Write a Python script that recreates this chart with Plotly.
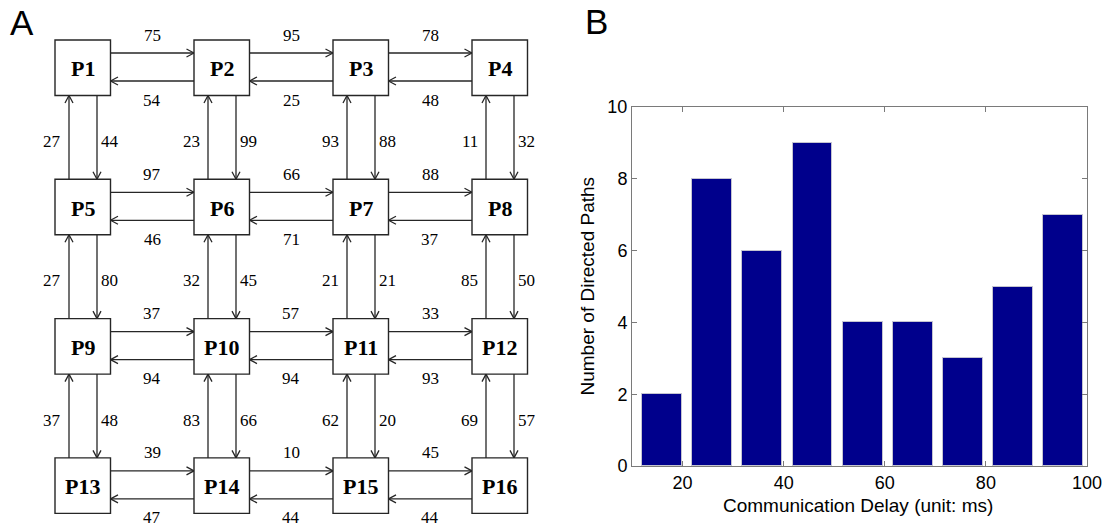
import plotly.graph_objects as go

# ---------------- Panel A data ----------------
node_names = [["P1", "P2", "P3", "P4"],
              ["P5", "P6", "P7", "P8"],
              ["P9", "P10", "P11", "P12"],
              ["P13", "P14", "P15", "P16"]]
# delay of Pk -> right neighbour (upper arrow), per row
right_delays = [[75, 95, 78], [97, 66, 88], [37, 57, 33], [39, 10, 45]]
# delay of right neighbour -> Pk (lower arrow), per row
left_delays = [[54, 25, 48], [46, 71, 37], [94, 94, 93], [47, 44, 44]]
# delay from node below -> node above (left arrow), per row gap, per column
up_delays = [[27, 23, 93, 11], [27, 32, 21, 85], [37, 83, 62, 69]]
# delay from node above -> node below (right arrow)
down_delays = [[44, 99, 88, 32], [80, 45, 21, 50], [48, 66, 20, 57]]

# ---------------- Panel B data ----------------
delay_bins = [16.0, 25.9, 35.8, 45.7, 55.6, 65.5, 75.4, 85.3, 95.2]
path_counts = [2, 8, 6, 9, 4, 4, 3, 5, 7]
x_ticks = [20, 40, 60, 80, 100]
y_ticks = [0, 2, 4, 6, 8, 10]

W, H = 1110, 528

# layout of the diagram (pixel space)
X0, Y0 = 55, 40
SX, SY = 139, 139.3
BOX = 55.5
HEAD_L, HEAD_W = 7.5, 4.0
LINE_C = "#262626"

lx, ly = [], []


def arrow(x1, y1, x2, y2):
    lx.extend([x1, x2, None])
    ly.extend([y1, y2, None])
    dx, dy = x2 - x1, y2 - y1
    n = (dx * dx + dy * dy) ** 0.5
    ux, uy = dx / n, dy / n
    px, py = -uy, ux
    bx, by = x2 - HEAD_L * ux, y2 - HEAD_L * uy
    lx.extend([bx + HEAD_W * px, x2, bx - HEAD_W * px, None])
    ly.extend([by + HEAD_W * py, y2, by - HEAD_W * py, None])


annotations = []
shapes = []
serif = "Liberation Serif, Times New Roman, serif"
sans = "Liberation Sans, Arial, sans-serif"


def label(x, y, text, anchor="center", size=17):
    annotations.append(dict(x=x, y=y, xref="x2", yref="y2", text=text,
                            showarrow=False, xanchor=anchor, yanchor="middle",
                            font=dict(family=serif, size=size, color="#000")))


for r in range(4):
    for c in range(4):
        x0 = X0 + SX * c
        y0 = Y0 + SY * r
        shapes.append(dict(type="rect", xref="x2", yref="y2", x0=x0, y0=y0,
                           x1=x0 + BOX, y1=y0 + BOX,
                           line=dict(color=LINE_C, width=1.4), fillcolor="white"))
        label(x0 + BOX / 2, y0 + BOX / 2 + 1, "<b>%s</b>" % node_names[r][c], size=22)
        if c < 3:
            xa, xb = x0 + BOX, x0 + SX
            arrow(xa, y0 + 13, xb, y0 + 13)
            arrow(xb, y0 + 41, xa, y0 + 41)
            label((xa + xb) / 2, y0 - 5, str(right_delays[r][c]))
            label((xa + xb) / 2, y0 + 60, str(left_delays[r][c]))
        if r < 3:
            ya, yb = y0 + BOX, y0 + SY
            arrow(x0 + 14, yb, x0 + 14, ya)
            arrow(x0 + 42, ya, x0 + 42, yb)
            label(x0 + 8, (ya + yb) / 2 + 4, str(up_delays[r][c]), anchor="right")
            label(x0 + 44, (ya + yb) / 2 + 4, str(down_delays[r][c]), anchor="left")

fig = go.Figure()
fig.add_trace(go.Scatter(x=lx, y=ly, mode="lines", xaxis="x2", yaxis="y2",
                         line=dict(color=LINE_C, width=1.3), hoverinfo="skip",
                         showlegend=False))

fig.add_trace(go.Bar(x=delay_bins, y=path_counts, width=7.9, xaxis="x", yaxis="y",
                     marker=dict(color="#00008C", line=dict(color="#c4c4d0", width=1)),
                     showlegend=False))

# panel letters
annotations.append(dict(x=22, y=22, xref="x2", yref="y2", text="A", showarrow=False,
                        font=dict(family=sans, size=35, color="black")))
annotations.append(dict(x=596, y=21, xref="x2", yref="y2", text="B", showarrow=False,
                        font=dict(family=sans, size=35, color="black")))

# bar chart axis titles
ax_l, ax_r, ax_t, ax_b = 632, 1087, 107, 466
annotations.append(dict(x=587, y=(ax_t + ax_b) / 2, xref="x2", yref="y2",
                        text="Number of Directed Paths", textangle=-90, showarrow=False,
                        font=dict(family=sans, size=19, color="black")))
annotations.append(dict(x=(ax_l + ax_r) / 2 - 2, y=505, xref="x2", yref="y2",
                        text="Communication Delay (unit: ms)", showarrow=False,
                        font=dict(family=sans, size=19, color="black")))

axis_common = dict(showline=True, linecolor="#7a7a7a", linewidth=1, mirror="allticks",
                   ticks="inside", ticklen=5, tickcolor="#7a7a7a", showgrid=False,
                   zeroline=False, automargin=False,
                   tickfont=dict(family=sans, size=18, color="black"))

fig.update_layout(
    width=W, height=H, margin=dict(l=0, r=0, t=0, b=0, pad=0),
    paper_bgcolor="white", plot_bgcolor="rgba(0,0,0,0)",
    bargap=0,
    xaxis=dict(domain=[ax_l / W, ax_r / W], range=[10, 100], tickvals=x_ticks,
               anchor="y", **axis_common),
    yaxis=dict(domain=[(H - ax_b) / H, (H - ax_t) / H], range=[0, 10], tickvals=y_ticks,
               anchor="x", **axis_common),
    xaxis2=dict(domain=[0, 1], range=[0, W], visible=False, anchor="y2", automargin=False),
    yaxis2=dict(domain=[0, 1], range=[H, 0], visible=False, anchor="x2", automargin=False),
    shapes=shapes, annotations=annotations,
)

fig.write_html("out.html")
